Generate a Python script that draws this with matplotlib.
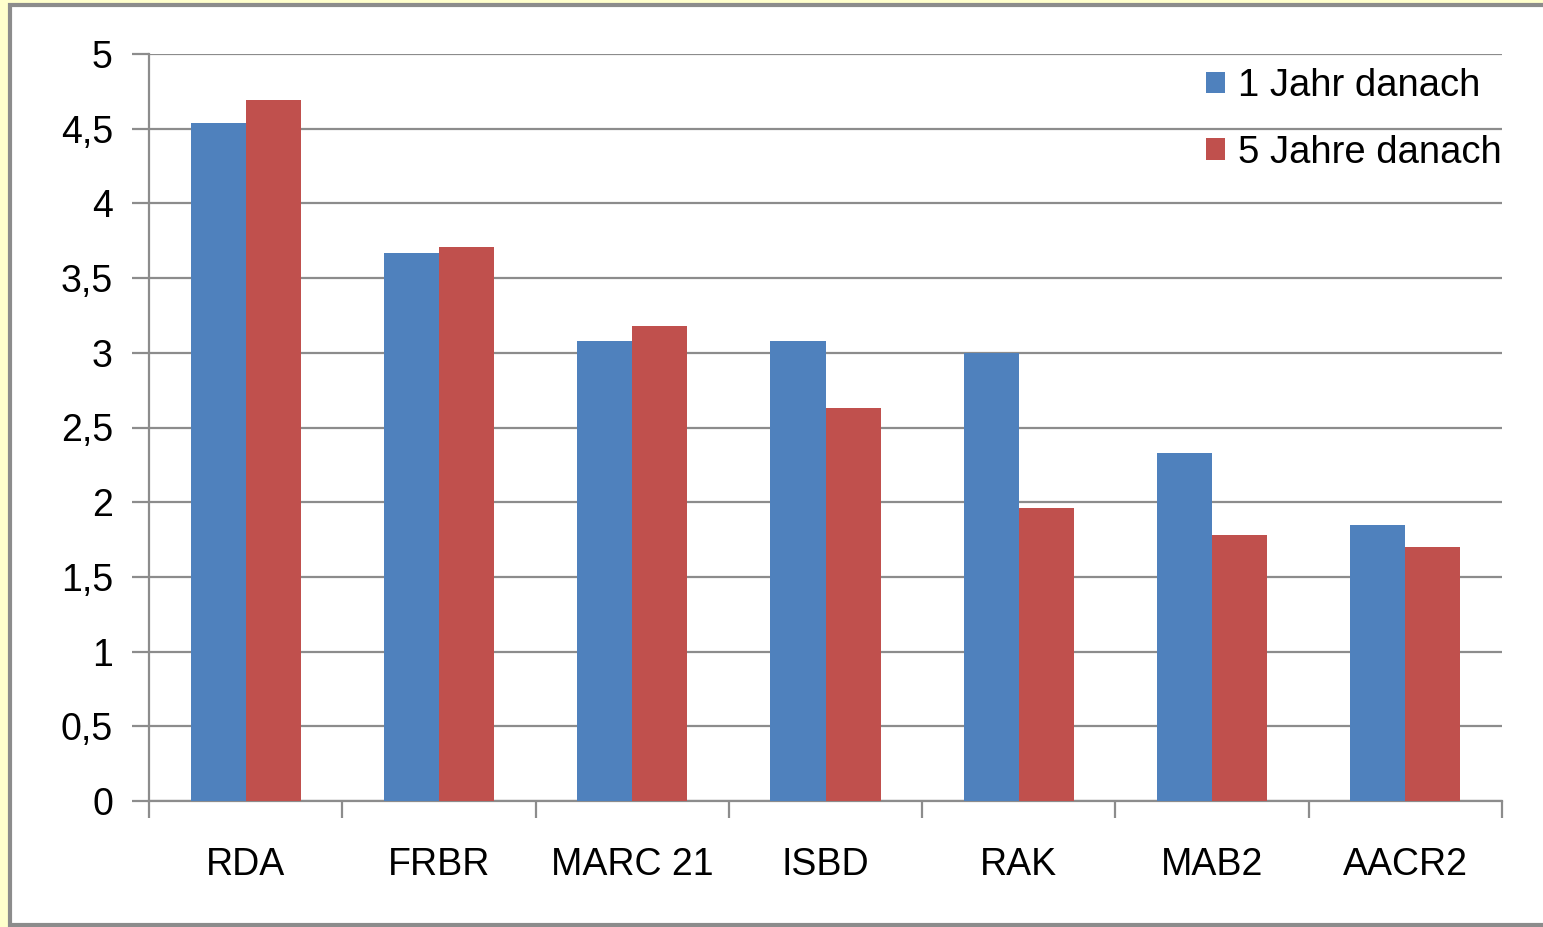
import matplotlib
matplotlib.use("Agg")
import matplotlib.pyplot as plt
import numpy as np
from matplotlib.patches import Rectangle

categories = ["RDA", "FRBR", "MARC 21", "ISBD", "RAK", "MAB2", "AACR2"]
series_names = ["1 Jahr danach", "5 Jahre danach"]
vals_1 = [4.54, 3.67, 3.08, 3.08, 3.00, 2.33, 1.85]
vals_5 = [4.69, 3.71, 3.18, 2.63, 1.96, 1.78, 1.70]
yticks = [0, 0.5, 1, 1.5, 2, 2.5, 3, 3.5, 4, 4.5, 5]
ytick_labels = ["0", "0,5", "1", "1,5", "2", "2,5", "3", "3,5", "4", "4,5", "5"]

plt.rcParams['font.family'] = ['Liberation Sans', 'DejaVu Sans']

W, H = 1543, 927
fig = plt.figure(figsize=(W/100, H/100), dpi=100)
fig.patch.set_facecolor("#FFFFCC")
fig.patches.append(Rectangle((10/W, 1 - 925/H), (W + 20 - 10)/W, (925 - 5)/H,
                             transform=fig.transFigure, facecolor="white",
                             edgecolor="#8C8C8C", linewidth=3, zorder=-5))

x0, x1 = 149, 1502
y0, y1 = 801, 54
ax = fig.add_axes([x0/W, 1 - y0/H, (x1 - x0)/W, (y0 - y1)/H])
ax.set_facecolor("none")

x = np.arange(len(categories))
bw = 0.285
ax.bar(x - bw/2, vals_1, bw, color="#4F81BD", label=series_names[0], zorder=3)
ax.bar(x + bw/2, vals_5, bw, color="#C0504D", label=series_names[1], zorder=3)

ax.set_xlim(-0.5, len(categories) - 0.5)
ax.set_ylim(0, 5)
ax.set_yticks(yticks)
ax.set_yticklabels(ytick_labels)
ax.yaxis.grid(True, color="#8C8C8C", linewidth=1.6, zorder=1)
ax.set_axisbelow(True)

ax.set_xticks(x)
ax.set_xticklabels(categories)
ax.set_xticks(np.arange(len(categories) + 1) - 0.5, minor=True)
ax.tick_params(axis="x", which="major", length=0, pad=33, labelsize=27)
ax.tick_params(axis="x", which="minor", length=12, width=1.6, color="#8C8C8C", direction="out")
ax.tick_params(axis="y", length=12, width=1.6, color="#8C8C8C", pad=14, labelsize=27)

for s in ["top", "right"]:
    ax.spines[s].set_visible(False)
for s in ["left", "bottom"]:
    ax.spines[s].set_color("#8C8C8C")
    ax.spines[s].set_linewidth(1.6)

leg = ax.legend(loc="upper right", bbox_to_anchor=(1.017, 1.012), frameon=False,
                fontsize=27.5, handlelength=0.5, handleheight=0.5, handletextpad=0.35,
                labelspacing=0.8, borderaxespad=0.2)

fig.savefig("out.png", dpi=100, facecolor=fig.get_facecolor())
